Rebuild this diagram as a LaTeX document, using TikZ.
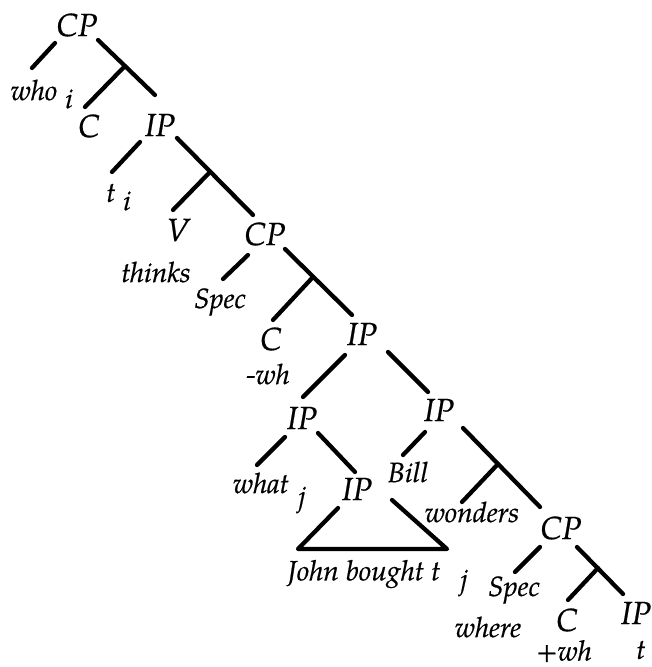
\documentclass[tikz,border=0pt]{standalone}
\usepackage{fontspec}
\setmainfont{TeX Gyre Pagella}[ItalicFeatures={FakeBold=0.6}]

\begin{document}
\begin{tikzpicture}[x=0.75pt, y=-0.75pt,
		every node/.style={font=\fontsize{21}{25}\selectfont\itshape, inner sep=0pt},
		kat/.style={font=\fontsize{24}{28}\selectfont\itshape},
		cabang/.style={line width=3.2pt, line cap=round}]
		
		\useasboundingbox (0,0) rectangle (652,667);
		
		% Label simpul (kategori)
		\node[kat] (cp1) at (77,25) {CP};
		\node[kat] (c1) at (89,126) {C};
		\node[kat] (ip1) at (160,125) {IP};
		\node[kat] (v) at (178,230) {V};
		\node[kat] (cp2) at (265,234) {CP};
		\node (spec1) at (220,302) {Spec};
		\node[kat] (c2) at (271,339) {C};
		\node[kat] (ip3) at (362,334) {IP};
		\node[kat] (ip4) at (302,418) {IP};
		\node[kat] (ip5) at (439,410) {IP};
		\node[kat] (ip6) at (357,489) {IP};
		\node[kat] (cp3) at (561,528) {CP};
		\node (spec2) at (514,590) {Spec};
		\node[kat] (c3) at (567,620) {C};
		\node[kat] (ip7) at (636,613) {IP};
		
		% Kata-kata dan indeks
		\node (who) at (34,90) {who};
		\node (idx-i1) at (69,99) {i};
		\node (t1) at (111,193) {t};
		\node (idx-i2) at (127,201) {i};
		\node (thinks) at (156,272) {thinks};
		\node (minwh) at (268,374) {-wh};
		\node (what) at (261,483) {what};
		\node (idx-j1) at (302,500) {j};
		\node (bill) at (408,472) {Bill};
		\node (john) at (364,574) {John bought t};
		\node (idx-j2) at (464,583) {j};
		\node (wonders) at (472,512) {wonders};
		\node (where) at (488,627) {where};
		\node (pluswh) at (564,651) {+wh};
		\node (t2) at (641,650) {t};
		
		% Ujung-ujung cabang
		\coordinate (a1) at (55,43);   \coordinate (a2) at (32,68);
		\coordinate (b1) at (98,40);   \coordinate (b2) at (155,95);
		\coordinate (jc1) at (125,66); \coordinate (b3) at (85,107);
		\coordinate (d1) at (140,142); \coordinate (d2) at (112,172);
		\coordinate (e1) at (177,138); \coordinate (e2) at (253,215);
		\coordinate (jc2) at (210,172); \coordinate (e3) at (173,210);
		\coordinate (f1) at (248,255); \coordinate (f2) at (223,279);
		\coordinate (g1) at (285,249); \coordinate (g2) at (352,315);
		\coordinate (jc3) at (313,277); \coordinate (g3) at (273,320);
		\coordinate (h1) at (345,355); \coordinate (h2) at (303,397);
		\coordinate (k1) at (388,352); \coordinate (k2) at (428,392);
		\coordinate (m1) at (285,437); \coordinate (m2) at (257,465);
		\coordinate (n1) at (318,433); \coordinate (n2) at (355,472);
		\coordinate (s1) at (338,508); \coordinate (s2) at (298,549);
		\coordinate (s3) at (447,549); \coordinate (s4) at (392,500);
		\coordinate (p1) at (425,432); \coordinate (p2) at (403,455);
		\coordinate (q1) at (463,428); \coordinate (q2) at (540,507);
		\coordinate (jc4) at (498,464); \coordinate (q3) at (462,502);
		\coordinate (r1) at (540,547); \coordinate (r2) at (515,572);
		\coordinate (u1) at (577,547); \coordinate (u2) at (623,594);
		\coordinate (jc5) at (598,568); \coordinate (u3) at (568,600);
		
		% Cabang pohon
		\draw[cabang] (a1) -- (a2);
		\draw[cabang] (b1) -- (b2);
		\draw[cabang] (jc1) -- (b3);
		\draw[cabang] (d1) -- (d2);
		\draw[cabang] (e1) -- (e2);
		\draw[cabang] (jc2) -- (e3);
		\draw[cabang] (f1) -- (f2);
		\draw[cabang] (g1) -- (g2);
		\draw[cabang] (jc3) -- (g3);
		\draw[cabang] (h1) -- (h2);
		\draw[cabang] (k1) -- (k2);
		\draw[cabang] (m1) -- (m2);
		\draw[cabang] (n1) -- (n2);
		\draw[cabang] (p1) -- (p2);
		\draw[cabang] (q1) -- (q2);
		\draw[cabang] (jc4) -- (q3);
		\draw[cabang] (r1) -- (r2);
		\draw[cabang] (u1) -- (u2);
		\draw[cabang] (jc5) -- (u3);
		
		% Segitiga di bawah IP
		\draw[cabang, line join=round] (s1) -- (s2) -- (s3) -- (s4);
		
	\end{tikzpicture}
\end{document}
